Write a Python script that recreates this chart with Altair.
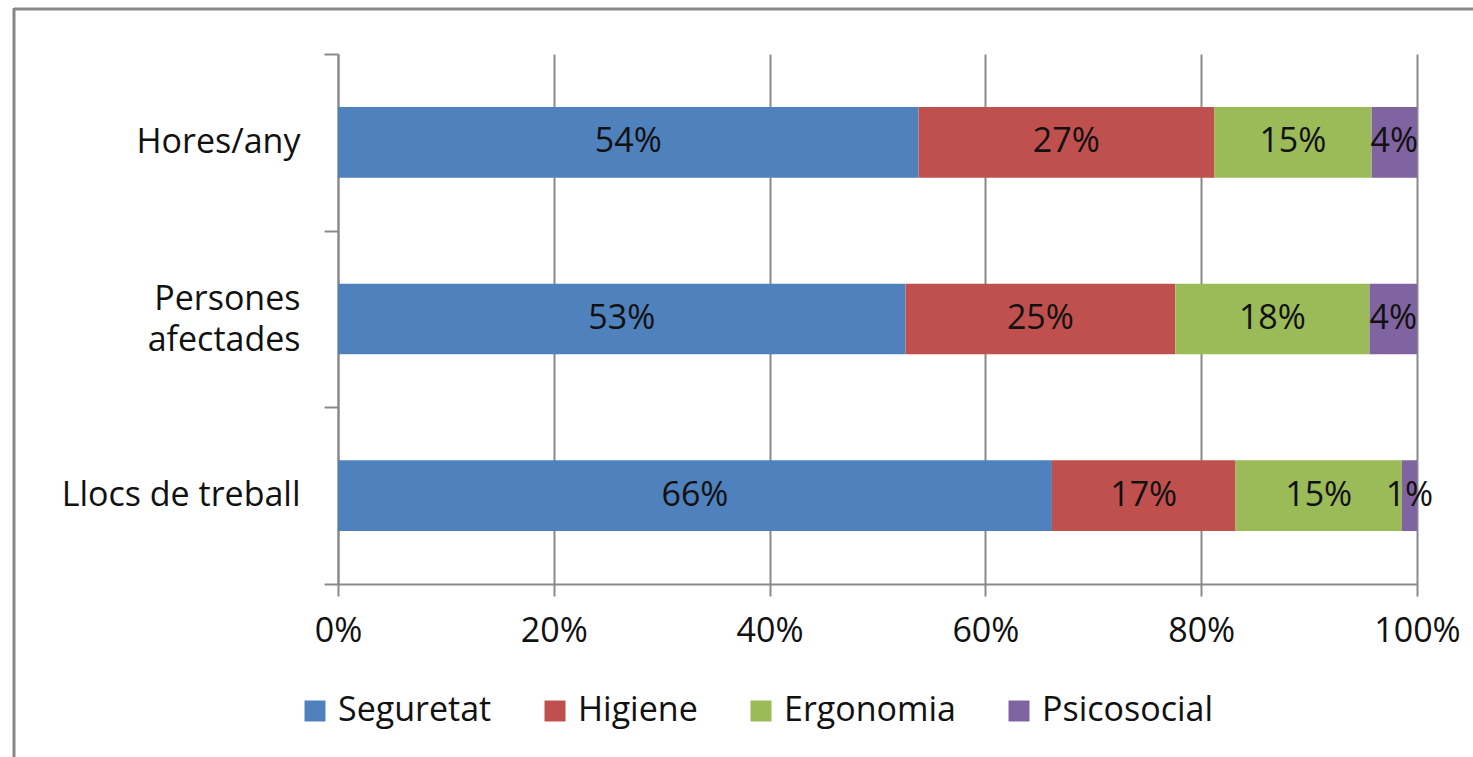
import altair as alt
import pandas as pd

# Share of each risk area (%), per indicator
categories = ["Hores/any", "Persones afectades", "Llocs de treball"]
series = ["Seguretat", "Higiene", "Ergonomia", "Psicosocial"]
seguretat = [53.8, 52.6, 66.1]
higiene = [27.4, 25.0, 17.0]
ergonomia = [14.6, 18.0, 15.4]
psicosocial = [4.2, 4.4, 1.4]
colors = ["#4F81BD", "#C0504D", "#9BBB59", "#8064A2"]
x_ticks = [0, 0.2, 0.4, 0.6, 0.8, 1.0]

rows = []
for s_idx, (name, vals) in enumerate(zip(series, [seguretat, higiene, ergonomia, psicosocial])):
    for cat, v in zip(categories, vals):
        rows.append({"cat": cat, "serie": name, "ord": s_idx, "value": v})
df = pd.DataFrame(rows)

FONT = "Open Sans"
FS = 34
GRID = "#8a8a8a"

base = (
    alt.Chart(df)
    .transform_joinaggregate(total="sum(value)", groupby=["cat"])
    .transform_calculate(pct="datum.value / datum.total")
    .transform_stack(stack="pct", groupby=["cat"], as_=["x0", "x1"],
                     sort=[alt.SortField("ord", order="ascending")])
    .transform_calculate(mid="(datum.x0 + datum.x1) / 2",
                         lbl="format(datum.value, '.0f') + '%'")
)

y_scale = alt.Scale(paddingInner=0, paddingOuter=0)

y_enc = alt.Y(
    "cat:N", sort=categories, title=None, scale=y_scale,
    axis=alt.Axis(
        tickBand="extent", tickSize=14, tickColor=GRID, tickWidth=2,
        domainColor=GRID, domainWidth=2, labelPadding=24, labelLimit=0,
        labelFont=FONT, labelFontSize=FS, labelColor="#111",
        labelLineHeight=41,
        labelOffset={"condition": {"test": "datum.value == 'Persones afectades'", "value": -20},
                     "value": 0},
        labelExpr="datum.value == 'Persones afectades' ? split(datum.value, ' ') : datum.value",
    ),
)

x_scale = alt.Scale(domain=[0, 1], nice=False)

bars = base.mark_bar(height={"band": 0.4}).encode(
    x=alt.X("x0:Q", scale=x_scale, title=None,
            axis=alt.Axis(values=x_ticks, format=".0%", grid=True, gridColor=GRID,
                          gridWidth=2, tickSize=12, tickColor=GRID, tickWidth=2,
                          domainColor=GRID, domainWidth=2, labelPadding=18,
                          labelFlush=False,
                          labelFont=FONT, labelFontSize=FS, labelColor="#111")),
    x2="x1:Q",
    y=y_enc,
    color=alt.Color(
        "serie:N", sort=series, title=None,
        scale=alt.Scale(domain=series, range=colors),
        legend=alt.Legend(orient="none", direction="horizontal", legendX=-40, legendY=640,
                          symbolType="square", symbolSize=441, symbolStrokeWidth=0,
                          labelFont=FONT, labelFontSize=FS, labelColor="#111",
                          labelLimit=0, labelOffset=6, columnPadding=46, padding=0),
    ),
    order=alt.Order("ord:Q"),
)

labels = base.mark_text(font=FONT, fontSize=FS, color="#111").encode(
    x=alt.X("mid:Q", scale=x_scale),
    y=alt.Y("cat:N", sort=categories, scale=y_scale),
    text="lbl:N",
)

frame_df = pd.DataFrame({"k": [0]})
frame_top = alt.Chart(frame_df).mark_rule(color="#888888", strokeWidth=3).encode(
    x=alt.value(-324), x2=alt.value(1140), y=alt.value(-45)
)
frame_left = alt.Chart(frame_df).mark_rule(color="#888888", strokeWidth=3).encode(
    x=alt.value(-324), y=alt.value(-46), y2=alt.value(710)
)

chart = (
    alt.layer(bars, labels, frame_top, frame_left)
    .properties(
        width=1079, height=530,
        padding={"left": 338, "top": 54, "right": 56, "bottom": 173},
        autosize=alt.AutoSizeParams(type="none"),
        background="white",
    )
    .configure_view(stroke=None)
)

chart.save("out.html", embed_options={"renderer": "svg", "actions": False})
